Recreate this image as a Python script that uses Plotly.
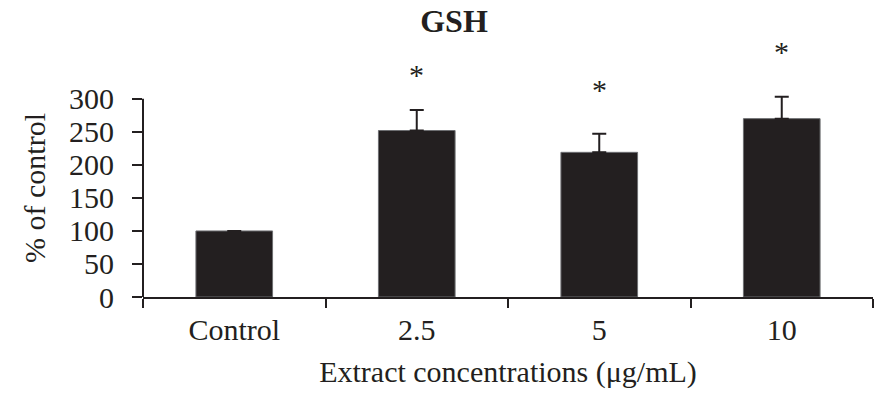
import plotly.graph_objects as go

# GSH levels relative to control, mean and SEM per treatment group
categories = ["Control", "2.5", "5", "10"]
gsh_percent = [100, 252, 219, 270]
gsh_sem = [0, 31, 28, 33]
significant = [False, True, True, True]
y_ticks = [0, 50, 100, 150, 200, 250, 300]

INK = "#231f20"
SERIF = "Liberation Serif, Times New Roman, serif"

positions = list(range(len(categories)))
boundaries = [p - 0.5 for p in positions] + [positions[-1] + 0.5]

# headroom above the last tick so the error caps are not clipped
y_top = 330

fig = go.Figure()
fig.add_trace(
    go.Bar(
        x=positions,
        y=gsh_percent,
        width=0.42,
        marker=dict(color=INK, line=dict(color="#6d6e71", width=1)),
        error_y=dict(
            type="data",
            symmetric=False,
            array=gsh_sem,
            arrayminus=[0] * len(gsh_sem),
            color=INK,
            thickness=2,
            width=7,
        ),
        showlegend=False,
    )
)

# significance asterisks above the error bars
star_gap = [36, 36, 44, 45]
for pos, m, s, sig, gap in zip(positions, gsh_percent, gsh_sem, significant, star_gap):
    if sig:
        fig.add_annotation(
            x=pos, xref="x",
            y=(m + s) / y_top, yref="paper",
            text="*", showarrow=False,
            yanchor="middle", yshift=gap,
            font=dict(family=SERIF, size=30, color=INK),
        )

# vertical axis line only spans the labelled range
fig.add_shape(
    type="line", xref="paper", yref="y",
    x0=0, x1=0, y0=0, y1=y_ticks[-1],
    line=dict(color=INK, width=2),
)

fig.update_layout(
    width=885,
    height=395,
    margin=dict(l=143, r=12, t=79, b=95),
    plot_bgcolor="white",
    paper_bgcolor="white",
    font=dict(family=SERIF, size=30, color=INK),
    title=dict(
        text="<b>GSH</b>",
        font=dict(family=SERIF, size=32, color=INK),
        xref="paper", x=0.426, xanchor="center",
        yref="container", y=1 - 21 / 395, yanchor="middle",
    ),
)

fig.update_xaxes(
    range=[boundaries[0], boundaries[-1]],
    tickvals=positions,
    ticktext=categories,
    tickangle=0,
    ticks="",
    minor=dict(tickvals=boundaries, ticks="outside", ticklen=9,
               tickwidth=2, tickcolor=INK, showgrid=False),
    showline=True, linecolor=INK, linewidth=2,
    tickfont=dict(family=SERIF, size=30, color=INK),
    ticklabelstandoff=5,
    showgrid=False, zeroline=False,
    title=dict(text="Extract concentrations (μg/mL)",
               font=dict(family=SERIF, size=30, color=INK), standoff=16),
)

fig.update_yaxes(
    range=[0, y_top],
    tickvals=y_ticks,
    showline=False,
    ticks="outside", ticklen=10, tickwidth=2, tickcolor=INK,
    tickfont=dict(family=SERIF, size=30, color=INK),
    ticklabelstandoff=12,
    showgrid=False, zeroline=False,
    title=dict(text="% of control",
               font=dict(family=SERIF, size=30, color=INK), standoff=14),
)

fig.write_html("out.html")
